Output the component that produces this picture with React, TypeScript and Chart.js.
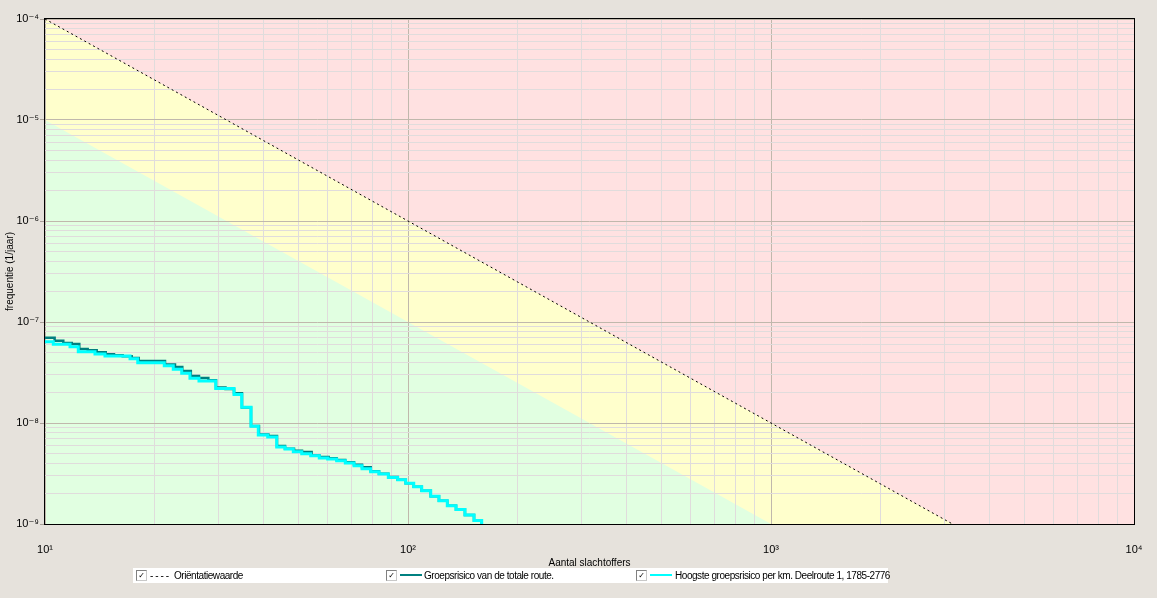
import React, { useEffect, useRef } from 'react';
import { Chart, registerables } from 'chart.js';

Chart.register(...registerables);

// ---- axis ranges and tick labels ----
const X_MIN = 10;
const X_MAX = 10000;
const Y_MIN = 1e-9;
const Y_MAX = 1e-4;
const X_MAJOR = [10, 100, 1000, 10000];
const X_TICK_LABELS = ['10¹', '10²', '10³', '10⁴'];
const Y_MAJOR = [1e-9, 1e-8, 1e-7, 1e-6, 1e-5, 1e-4];
const Y_TICK_LABELS = ['10⁻⁹', '10⁻⁸', '10⁻⁷', '10⁻⁶', '10⁻⁵', '10⁻⁴'];
const MINOR_MULTIPLIERS = [1, 2, 3, 4, 5, 6, 7, 8, 9];

// ---- orientation value line and zone boundaries ----
const orientatieN = [10, 100, 1000, 10000];
const orientatieF = [1e-4, 1e-6, 1e-8, 1e-10];
const groenGrensN = [10, 100, 1000, 10000];
const groenGrensF = [1e-5, 1e-7, 1e-9, 1e-11];

// ---- Groepsrisico van de totale route (step starts) ----
const groepN = [10, 10.63, 11.23, 11.85, 12.43, 13.11, 13.88, 14.7, 15.49, 16.37, 17.33, 18.12, 21.41, 22.81, 23.89, 25.22, 26.56, 28.18, 29.59, 31.42, 33.17, 34.89, 36.94, 38.86, 41.23, 43.56, 45.84, 48.53, 51.05, 54.28, 57.03, 60.45, 63.61, 67.18, 71.01, 74.7, 78.93, 83.2, 88.26, 93.67, 98.55, 103.7, 109.1, 115.5, 121.7, 128.3, 135.6, 143.5, 152.0, 159.6];
const groepF = [7.0e-8, 6.53e-8, 6.2e-8, 6.06e-8, 5.4e-8, 5.25e-8, 5.01e-8, 4.79e-8, 4.68e-8, 4.58e-8, 4.4e-8, 4.11e-8, 3.8e-8, 3.58e-8, 3.27e-8, 2.92e-8, 2.79e-8, 2.65e-8, 2.24e-8, 2.17e-8, 1.97e-8, 1.42e-8, 9.34e-9, 7.69e-9, 7.43e-9, 5.92e-9, 5.56e-9, 5.32e-9, 5.16e-9, 4.77e-9, 4.61e-9, 4.47e-9, 4.3e-9, 4.08e-9, 3.87e-9, 3.64e-9, 3.33e-9, 3.15e-9, 2.92e-9, 2.75e-9, 2.53e-9, 2.34e-9, 2.14e-9, 1.88e-9, 1.7e-9, 1.52e-9, 1.39e-9, 1.23e-9, 1.08e-9, 8e-10];

// ---- Hoogste groepsrisico per km (step starts) ----
const hoogsteN = [10, 10.54, 11.72, 12.35, 13.73, 14.63, 17.15, 18.01, 21.31, 22.56, 23.8, 25.08, 26.56, 29.53, 33.17, 34.83, 36.94, 38.69, 41.07, 43.48, 45.84, 48.31, 50.96, 53.95, 56.96, 60.08, 63.61, 67.18, 71.01, 74.7, 78.93, 83.2, 88.26, 93.67, 98.55, 103.7, 109.1, 115.5, 121.7, 128.3, 135.6, 143.5, 152.0, 159.6];
const hoogsteF = [6.38e-8, 6.02e-8, 5.69e-8, 5.08e-8, 4.82e-8, 4.61e-8, 4.33e-8, 3.95e-8, 3.69e-8, 3.4e-8, 3.1e-8, 2.77e-8, 2.6e-8, 2.19e-8, 1.92e-8, 1.43e-8, 9.27e-9, 7.61e-9, 7.27e-9, 5.79e-9, 5.53e-9, 5.2e-9, 4.97e-9, 4.75e-9, 4.5e-9, 4.4e-9, 4.23e-9, 4.02e-9, 3.78e-9, 3.53e-9, 3.29e-9, 3.13e-9, 2.88e-9, 2.75e-9, 2.53e-9, 2.34e-9, 2.14e-9, 1.88e-9, 1.7e-9, 1.52e-9, 1.39e-9, 1.23e-9, 1.08e-9, 8e-10];

const LEGEND_LABELS = ['Oriëntatiewaarde', 'Groepsrisico van de totale route.', 'Hoogste groepsrisico per km. Deelroute 1, 1785-2776'];

// ---- styles ----
const PAGE_BG = '#e6e2dc';
const ZONE_RED = '#ffe1e1';
const ZONE_YELLOW = '#ffffcc';
const ZONE_GREEN = '#e1ffe1';
const GRID_MAJOR = '#c0b8ac';
const GRID_MINOR = '#e0dcdc';
const TEAL = '#008080';
const CYAN = '#00ffff';
const FONT_FAMILY = '"Liberation Sans", Arial, "DejaVu Sans", sans-serif';

function isMajor(v: number | undefined): boolean {
  if (!v || v <= 0) return false;
  const l = Math.log10(v);
  return Math.abs(l - Math.round(l)) < 1e-9;
}

function buildTicks(e0: number, e1: number) {
  const ticks: { value: number }[] = [];
  for (let e = e0; e < e1; e++) {
    for (const m of MINOR_MULTIPLIERS) {
      ticks.push({ value: parseFloat((m * Math.pow(10, e)).toPrecision(10)) });
    }
  }
  ticks.push({ value: Math.pow(10, e1) });
  return ticks;
}

function labelFor(v: number, majors: number[], labels: string[]) {
  const idx = majors.findIndex((m) => Math.abs(v / m - 1) < 1e-6);
  return idx >= 0 ? labels[idx] : '';
}

function toPoints(xs: number[], ys: number[]) {
  return xs.map((x, i) => ({ x, y: ys[i] }));
}

const zonesPlugin = {
  id: 'zones',
  beforeDraw(chart: any) {
    const { ctx, chartArea: a, scales } = chart;
    const x = scales.x;
    const y = scales.y;
    ctx.save();
    ctx.beginPath();
    ctx.rect(a.left, a.top, a.right - a.left, a.bottom - a.top);
    ctx.clip();
    ctx.fillStyle = ZONE_RED;
    ctx.fillRect(a.left, a.top, a.right - a.left, a.bottom - a.top);
    const poly = (ns: number[], fs: number[], color: string) => {
      ctx.beginPath();
      ns.forEach((n, i) => {
        const px = x.getPixelForValue(n);
        const py = y.getPixelForValue(fs[i]);
        if (i === 0) ctx.moveTo(px, py);
        else ctx.lineTo(px, py);
      });
      const lastX = x.getPixelForValue(ns[ns.length - 1]);
      ctx.lineTo(lastX, a.bottom + 1000);
      ctx.lineTo(a.left - 10, a.bottom + 1000);
      ctx.lineTo(a.left - 10, y.getPixelForValue(fs[0]));
      ctx.closePath();
      ctx.fillStyle = color;
      ctx.fill();
    };
    poly(orientatieN, orientatieF, ZONE_YELLOW);
    poly(groenGrensN, groenGrensF, ZONE_GREEN);
    ctx.restore();
  },
};

const borderPlugin = {
  id: 'frame',
  afterDraw(chart: any) {
    const { ctx, chartArea: a } = chart;
    ctx.save();
    ctx.strokeStyle = '#000';
    ctx.lineWidth = 1;
    ctx.strokeRect(Math.round(a.left) - 0.5, Math.round(a.top) - 0.5, Math.round(a.right - a.left) + 1, Math.round(a.bottom - a.top) + 1);
    ctx.restore();
  },
};

function CheckBox() {
  return (
    <span
      style={{
        position: 'absolute',
        top: 2,
        width: 9,
        height: 9,
        border: '1px solid #808080',
        borderRightColor: '#c8c8c8',
        borderBottomColor: '#c8c8c8',
        background: '#fff',
        fontSize: 8,
        lineHeight: '9px',
        textAlign: 'center',
        color: '#000',
        fontFamily: '"DejaVu Sans", sans-serif',
        fontWeight: 'bold',
      }}
    >
      ✓
    </span>
  );
}

export default function App() {
  const canvasRef = useRef<HTMLCanvasElement | null>(null);

  useEffect(() => {
    const canvas = canvasRef.current;
    if (!canvas) return;
    const font = { family: FONT_FAMILY, size: 10 };
    const tickFont = { family: FONT_FAMILY, size: 11 };
    const chart = new Chart(canvas, {
      type: 'line',
      data: {
        datasets: [
          {
            label: LEGEND_LABELS[0],
            data: toPoints(orientatieN, orientatieF),
            borderColor: '#000',
            borderWidth: 1,
            borderDash: [2, 3],
            pointRadius: 0,
            fill: false,
            order: 0,
          },
          {
            label: LEGEND_LABELS[2],
            data: toPoints(hoogsteN, hoogsteF),
            borderColor: CYAN,
            borderWidth: 3,
            pointRadius: 0,
            stepped: 'before',
            fill: false,
            order: 1,
          },
          {
            label: LEGEND_LABELS[1],
            data: toPoints(groepN, groepF),
            borderColor: TEAL,
            borderWidth: 2.5,
            pointRadius: 0,
            stepped: 'before',
            fill: false,
            order: 2,
          },
        ],
      },
      options: {
        responsive: false,
        animation: false,
        devicePixelRatio: 1,
        layout: { padding: { top: 19, right: 23, bottom: 0, left: 0 } },
        plugins: {
          legend: { display: false },
          tooltip: { enabled: false },
        },
        scales: {
          x: {
            type: 'logarithmic',
            min: X_MIN,
            max: X_MAX,
            afterBuildTicks: (s: any) => {
              s.ticks = buildTicks(1, 4);
            },
            afterFit: (s: any) => {
              s.height = 74;
              s.paddingLeft = 0;
              s.paddingRight = 0;
            },
            grid: {
              color: (c: any) => (isMajor(c.tick?.value) ? GRID_MAJOR : GRID_MINOR),
              lineWidth: 1,
              drawTicks: false,
            },
            border: { display: false },
            ticks: {
              autoSkip: false,
              maxRotation: 0,
              minRotation: 0,
              padding: 19,
              color: '#000',
              font: tickFont,
              callback: (v: any) => labelFor(Number(v), X_MAJOR, X_TICK_LABELS),
            },
            title: {
              display: true,
              text: 'Aantal slachtoffers',
              color: '#000',
              font,
              padding: { top: 0, bottom: 29 },
            },
          },
          y: {
            type: 'logarithmic',
            min: Y_MIN,
            max: Y_MAX,
            afterBuildTicks: (s: any) => {
              s.ticks = buildTicks(-9, -4);
            },
            afterFit: (s: any) => {
              s.width = 45;
              s.paddingTop = 0;
              s.paddingBottom = 0;
            },
            grid: {
              color: (c: any) => (isMajor(c.tick?.value) ? GRID_MAJOR : GRID_MINOR),
              tickColor: (c: any) => (isMajor(c.tick?.value) ? '#a8a098' : 'rgba(0,0,0,0)'),
              tickLength: 5,
              lineWidth: 1,
            },
            border: { display: false },
            ticks: {
              autoSkip: false,
              padding: 1,
              color: '#000',
              font: tickFont,
              callback: (v: any) => labelFor(Number(v), Y_MAJOR, Y_TICK_LABELS),
            },
            title: {
              display: true,
              text: 'frequentie (1/jaar)',
              color: '#000',
              font,
              padding: { top: 4, bottom: 0 },
            },
          },
        },
      },
      plugins: [zonesPlugin, borderPlugin],
    } as any);
    return () => {
      chart.destroy();
    };
  }, []);

  const textStyle: React.CSSProperties = {
    position: 'absolute',
    top: 1,
    fontFamily: FONT_FAMILY,
    fontSize: 10,
    letterSpacing: '-0.45px',
    lineHeight: '13px',
    color: '#000',
    whiteSpace: 'nowrap',
  };

  return (
    <div
      style={{
        position: 'absolute',
        left: 0,
        top: 0,
        width: 1157,
        height: 598,
        background: PAGE_BG,
        overflow: 'hidden',
      }}
    >
      <canvas ref={canvasRef} width={1157} height={598} style={{ display: 'block', width: 1157, height: 598 }} />
      <div
        style={{
          position: 'absolute',
          left: 133,
          top: 568,
          width: 755,
          height: 15,
          background: '#fff',
        }}
      >
        <span style={{ position: 'absolute', left: 3 }}>
          <CheckBox />
        </span>
        <span style={{ ...textStyle, left: 17 }}>- - - -</span>
        <span style={{ ...textStyle, left: 41 }}>{LEGEND_LABELS[0]}</span>

        <span style={{ position: 'absolute', left: 253 }}>
          <CheckBox />
        </span>
        <span style={{ position: 'absolute', left: 267, top: 6, width: 22, height: 2, background: TEAL }} />
        <span style={{ ...textStyle, left: 291 }}>{LEGEND_LABELS[1]}</span>

        <span style={{ position: 'absolute', left: 503 }}>
          <CheckBox />
        </span>
        <span style={{ position: 'absolute', left: 517, top: 6, width: 22, height: 2, background: CYAN }} />
        <span style={{ ...textStyle, left: 542 }}>{LEGEND_LABELS[2]}</span>
      </div>
    </div>
  );
}
